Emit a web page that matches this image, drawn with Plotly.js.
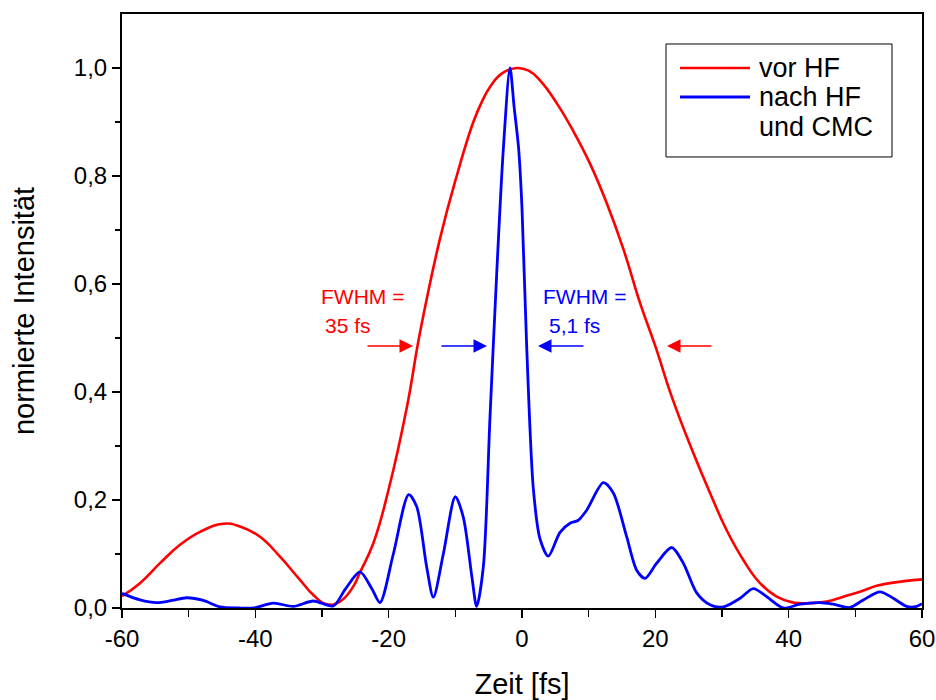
<!DOCTYPE html>
<html>
<head>
<meta charset="utf-8">
<script src="https://cdn.plot.ly/plotly-3.0.1.min.js"></script>
<style>html,body{margin:0;padding:0;background:#fff;}#chart{width:936px;height:700px;}</style>
</head>
<body>
<div id="chart"></div>
<script>
// Red curve: "vor HF"
const timeVor = [-60, -57.3, -54.3, -51.3, -48.3, -44.8, -42.3, -39.3, -36.3, -33.3, -31.3, -29.3, -27.3, -25.3, -24.3, -22.3, -20, -17.3, -15.3, -12.3, -9.8, -7.3, -6.0, -4.8, -3.0, -0.8, 1.0, 2.7, 5.2, 7.7, 10.2, 12.7, 15.2, 17.7, 20.0, 22.5, 25.5, 28.2, 30.7, 33.2, 35.7, 38.2, 40.7, 43.2, 45.7, 48.2, 50.7, 53.2, 55.7, 60];
const intVor = [0.022, 0.046, 0.083, 0.117, 0.141, 0.156, 0.151, 0.132, 0.095, 0.052, 0.024, 0.007, 0.012, 0.04, 0.066, 0.12, 0.22, 0.37, 0.51, 0.684, 0.80, 0.90, 0.938, 0.965, 0.99, 1.0, 0.995, 0.977, 0.935, 0.883, 0.823, 0.75, 0.665, 0.565, 0.485, 0.39, 0.293, 0.213, 0.144, 0.089, 0.046, 0.021, 0.01, 0.009, 0.012, 0.021, 0.03, 0.041, 0.047, 0.053];

// Blue curve: "nach HF und CMC"
const timeNach = [-60, -57.3, -54.8, -52.5, -50.3, -47.8, -45.3, -42.5, -40.3, -37.3, -34.3, -31.3, -28.3, -26.5, -24.3, -22.5, -21.3, -19.3, -17.0, -15.8, -14.3, -13.3, -11.8, -10.0, -8.8, -7.5, -6.8, -5.8, -4.8, -3.8, -2.8, -1.8, -1.2, -0.5, 0.0, 0.7, 1.7, 2.7, 3.95, 5.7, 7.2, 8.4, 9.7, 12.2, 13.7, 15.7, 17.2, 18.45, 20.2, 22.45, 24.2, 26.2, 28.2, 30.2, 32.7, 34.7, 36.7, 39.2, 41.7, 44.7, 46.7, 49.2, 51.2, 53.7, 55.7, 57.7, 59.2, 60];
const intNach = [0.027, 0.015, 0.01, 0.014, 0.019, 0.014, 0.002, 0.0, 0.0, 0.009, 0.003, 0.013, 0.004, 0.035, 0.067, 0.035, 0.01, 0.1, 0.21, 0.188, 0.076, 0.02, 0.1, 0.206, 0.168, 0.056, 0.003, 0.076, 0.354, 0.618, 0.85, 1.0, 0.93, 0.85, 0.74, 0.485, 0.221, 0.128, 0.096, 0.14, 0.157, 0.162, 0.181, 0.232, 0.213, 0.132, 0.07, 0.055, 0.083, 0.112, 0.083, 0.028, 0.006, 0.002, 0.018, 0.036, 0.021, 0.0, 0.007, 0.01, 0.007, 0.001, 0.015, 0.03, 0.018, 0.003, 0.003, 0.008];

const seriesNames = ['vor HF', 'nach HF', 'und CMC'];
const seriesColors = ['#ff0000', '#0000ff'];
const xTicks = [-60, -40, -20, 0, 20, 40, 60];
const xTickText = ['-60', '-40', '-20', '0', '20', '40', '60'];
const yTicks = [0, 0.2, 0.4, 0.6, 0.8, 1.0];
const yTickText = ['0,0', '0,2', '0,4', '0,6', '0,8', '1,0'];

// FWHM markers (tail x, tip x) at half-maximum level
const fwhmLevel = 0.485;
const fwhmArrows = [
  {tail: -23.4, tip: -16.35, color: '#ff0000'},
  {tail: -12.3, tip: -5.25, color: '#0000ff'},
  {tail: 9.45, tip: 2.4, color: '#0000ff'},
  {tail: 28.65, tip: 21.75, color: '#ff0000'}
];
const fwhmLabels = [
  {x: -30.4, y: 0.577, text: 'FWHM =', color: '#ff0000'},
  {x: -29.9, y: 0.524, text: '35 fs', color: '#ff0000'},
  {x: 2.8, y: 0.577, text: 'FWHM =', color: '#0000ff'},
  {x: 3.8, y: 0.524, text: '5,1 fs', color: '#0000ff'}
];

const FONT = 'Liberation Sans, Arial, sans-serif';

const traces = [
  {x: timeVor, y: intVor, type: 'scatter', mode: 'lines', name: seriesNames[0],
   line: {color: seriesColors[0], width: 2.6, shape: 'spline', smoothing: 1.3}, showlegend: false},
  {x: timeNach, y: intNach, type: 'scatter', mode: 'lines', name: seriesNames[1] + ' ' + seriesNames[2],
   line: {color: seriesColors[1], width: 2.8, shape: 'spline', smoothing: 0.8}, showlegend: false}
];

const annotations = [];
fwhmArrows.forEach(a => annotations.push({
  x: a.tip, y: fwhmLevel, ax: a.tail, ay: fwhmLevel, xref: 'x', yref: 'y', axref: 'x', ayref: 'y',
  text: '', showarrow: true, arrowhead: 2, arrowsize: 1.8, arrowwidth: 1.5, arrowcolor: a.color, standoff: 0
}));
fwhmLabels.forEach(l => annotations.push({
  x: l.x, y: l.y, xref: 'x', yref: 'y', text: l.text, showarrow: false, xanchor: 'left', yanchor: 'middle',
  font: {family: FONT, size: 21, color: l.color}
}));

// Legend (drawn in paper coordinates)
const legRowsY = [0.9091, 0.8603, 0.8098];
const legTextX = 0.79375;
seriesNames.forEach((n, i) => annotations.push({
  x: legTextX, y: legRowsY[i], xref: 'paper', yref: 'paper', text: n, showarrow: false,
  xanchor: 'left', yanchor: 'middle', font: {family: FONT, size: 27, color: '#000'}
}));

const shapes = [
  {type: 'rect', xref: 'paper', yref: 'paper', x0: 0.68, x1: 0.9625, y0: 0.7593, y1: 0.9495,
   line: {color: '#000', width: 1}, fillcolor: 'rgba(0,0,0,0)'},
  {type: 'line', xref: 'paper', yref: 'paper', x0: 0.6975, x1: 0.785, y0: legRowsY[0], y1: legRowsY[0],
   line: {color: seriesColors[0], width: 2.6}},
  {type: 'line', xref: 'paper', yref: 'paper', x0: 0.6975, x1: 0.785, y0: legRowsY[1], y1: legRowsY[1],
   line: {color: seriesColors[1], width: 2.8}}
];

const layout = {
  width: 936, height: 700,
  margin: {l: 122, r: 14, t: 14, b: 92},
  paper_bgcolor: '#fff', plot_bgcolor: '#fff',
  separators: ',.',
  font: {family: FONT, color: '#000'},
  showlegend: false,
  xaxis: {
    range: [-60, 60], tickvals: xTicks, ticktext: xTickText, ticks: 'outside', ticklen: 8, tickwidth: 1.5, tickcolor: '#000',
    minor: {dtick: 10, tick0: 0, ticks: 'outside', ticklen: 7, tickwidth: 1.5, tickcolor: '#000', showgrid: false},
    showline: true, linecolor: '#000', linewidth: 2, mirror: true, showgrid: false, zeroline: false,
    tickfont: {family: FONT, size: 24}, title: {text: 'Zeit [fs]', font: {family: FONT, size: 29}, standoff: 24}
  },
  yaxis: {
    range: [0, 1.1], tickvals: yTicks, ticktext: yTickText, ticks: 'outside', ticklen: 8, tickwidth: 1.5, tickcolor: '#000',
    minor: {tickvals: [0.1, 0.3, 0.5, 0.7, 0.9], ticks: 'outside', ticklen: 5, tickwidth: 1.5, tickcolor: '#000', showgrid: false},
    showline: true, linecolor: '#000', linewidth: 2, mirror: true, showgrid: false, zeroline: false,
    tickfont: {family: FONT, size: 24}, title: {text: 'normierte Intensität', font: {family: FONT, size: 29}, standoff: 31}
  },
  annotations: annotations,
  shapes: shapes
};

Plotly.newPlot('chart', traces, layout, {displayModeBar: false, staticPlot: true});
</script>
</body>
</html>
